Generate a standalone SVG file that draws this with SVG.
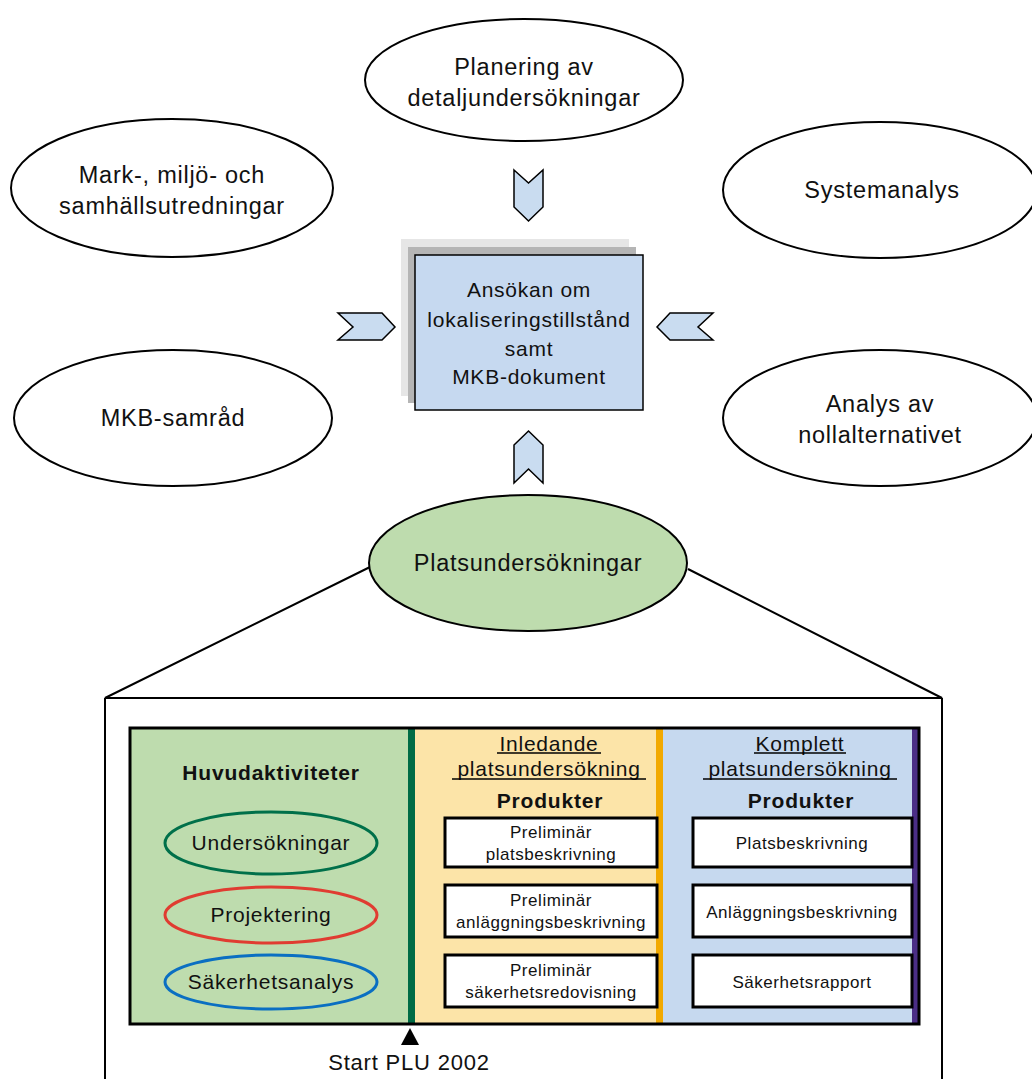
<svg xmlns="http://www.w3.org/2000/svg" width="1032" height="1079" viewBox="0 0 1032 1079">
  <style>
    text { font-family: "Liberation Sans", Arial, sans-serif; fill: #111; text-anchor: middle; }
    .big { font-size: 23.5px; letter-spacing: 0.75px; }
    .mid { font-size: 21px; letter-spacing: 0.75px; }
    .small { font-size: 17px; letter-spacing: 0.55px; }
    .bold { font-weight: bold; font-size: 21px; letter-spacing: 0.8px; }
    .oval { fill: #fff; stroke: #000; stroke-width: 2; }
    .chev { fill: #c9dcf0; stroke: #000; stroke-width: 1.5; stroke-linejoin: miter; }
    .prod { fill: #fff; stroke: #000; stroke-width: 3; }
    .line { stroke: #000; stroke-width: 2; fill: none; }
  </style>

  <!-- surrounding work packages -->
  <g id="planering">
    <ellipse class="oval" cx="524" cy="80" rx="159" ry="61"/>
    <text class="big" x="524" y="75">Planering av</text>
    <text class="big" x="524" y="106">detaljundersökningar</text>
  </g>
  <g id="mark">
    <ellipse class="oval" cx="172" cy="188" rx="161" ry="69"/>
    <text class="big" x="172" y="183">Mark-, miljö- och</text>
    <text class="big" x="172" y="214">samhällsutredningar</text>
  </g>
  <g id="systemanalys">
    <ellipse class="oval" cx="880" cy="190" rx="157" ry="68"/>
    <text class="big" x="882" y="198">Systemanalys</text>
  </g>
  <g id="mkb-samrad">
    <ellipse class="oval" cx="173" cy="418" rx="159" ry="68"/>
    <text class="big" x="173" y="426">MKB-samråd</text>
  </g>
  <g id="nollalternativ">
    <ellipse class="oval" cx="880" cy="418" rx="157" ry="68"/>
    <text class="big" x="880" y="412">Analys av</text>
    <text class="big" x="880" y="443">nollalternativet</text>
  </g>

  <!-- central application document with stacked shadows -->
  <g id="ansokan">
    <rect x="401" y="239" width="228" height="157" fill="#e6e6e6"/>
    <rect x="408" y="247" width="228" height="156" fill="#b5b5b5"/>
    <rect x="415" y="255" width="228" height="155" fill="#c6d9f0" stroke="#000" stroke-width="1.5"/>
    <text class="mid" x="529" y="297">Ansökan om</text>
    <text class="mid" x="529" y="327">lokaliseringstillstånd</text>
    <text class="mid" x="529" y="356">samt</text>
    <text class="mid" x="529" y="384">MKB-dokument</text>
  </g>

  <!-- chevrons pointing at the document -->
  <g id="connectors">
    <polygon class="chev" points="514,170 528.5,183 543,170 543,207 528.5,221 514,207"/>
    <polygon class="chev" points="514,445 528.5,431 543,445 543,483 528.5,469 514,483"/>
    <polygon class="chev" points="338,313 382,313 395,327 382,340 338,340 353,327"/>
    <polygon class="chev" points="713,313 670,313 657,327 670,340 713,340 698,327"/>
    <!-- zoom lines from site investigations to detail frame -->
    <polyline class="line" points="370,567 105,698 942,698 688,569"/>
    <line class="line" x1="105" y1="698" x2="105" y2="1079"/>
    <line class="line" x1="942" y1="698" x2="942" y2="1079"/>
  </g>

  <g id="platsundersokningar">
    <ellipse cx="528" cy="563" rx="159" ry="68" fill="#bedcae" stroke="#000" stroke-width="2"/>
    <text class="big" x="528" y="571">Platsundersökningar</text>
  </g>

  <!-- detail: phases of site investigation -->
  <g id="faser">
    <rect x="130" y="728" width="278" height="296" fill="#bedcae"/>
    <rect x="415" y="728" width="241" height="296" fill="#fce4a8"/>
    <rect x="663" y="728" width="249" height="296" fill="#c6d9ef"/>
    <rect x="408" y="728" width="7" height="296" fill="#006b45"/>
    <rect x="656" y="728" width="7" height="296" fill="#f2a900"/>
    <rect x="912" y="728" width="6" height="296" fill="#4b2e86"/>
    <rect x="130" y="728" width="789" height="296" fill="none" stroke="#000" stroke-width="3"/>
  </g>

  <g id="huvudaktiviteter">
    <text class="bold" x="271" y="780">Huvudaktiviteter</text>
    <ellipse cx="271" cy="843" rx="106" ry="31" fill="none" stroke="#00704a" stroke-width="3"/>
    <text class="mid" x="271" y="850">Undersökningar</text>
    <ellipse cx="271" cy="915" rx="106" ry="28" fill="none" stroke="#e03c31" stroke-width="3"/>
    <text class="mid" x="271" y="922">Projektering</text>
    <ellipse cx="271" cy="982" rx="106" ry="27" fill="none" stroke="#0a6fc2" stroke-width="3"/>
    <text class="mid" x="271" y="989">Säkerhetsanalys</text>
  </g>

  <g id="inledande">
    <text class="mid" x="549" y="751">Inledande</text>
    <line x1="497" y1="753" x2="601" y2="753" stroke="#000" stroke-width="1.5"/>
    <text class="mid" x="549" y="776">platsundersökning</text>
    <line x1="452" y1="779" x2="646" y2="779" stroke="#000" stroke-width="1.5"/>
    <text class="bold" x="550" y="808">Produkter</text>
    <rect class="prod" x="445" y="818" width="212" height="49"/>
    <text class="small" x="551" y="838">Preliminär</text>
    <text class="small" x="551" y="860">platsbeskrivning</text>
    <rect class="prod" x="445" y="885" width="212" height="52"/>
    <text class="small" x="551" y="906">Preliminär</text>
    <text class="small" x="551" y="928">anläggningsbeskrivning</text>
    <rect class="prod" x="445" y="955" width="212" height="52"/>
    <text class="small" x="551" y="976">Preliminär</text>
    <text class="small" x="551" y="998">säkerhetsredovisning</text>
  </g>

  <g id="komplett">
    <text class="mid" x="800" y="751">Komplett</text>
    <line x1="754" y1="753" x2="846" y2="753" stroke="#000" stroke-width="1.5"/>
    <text class="mid" x="800" y="776">platsundersökning</text>
    <line x1="703" y1="779" x2="897" y2="779" stroke="#000" stroke-width="1.5"/>
    <text class="bold" x="801" y="808">Produkter</text>
    <rect class="prod" x="693" y="818" width="219" height="49"/>
    <text class="small" x="802" y="849">Platsbeskrivning</text>
    <rect class="prod" x="693" y="885" width="219" height="52"/>
    <text class="small" x="802" y="918">Anläggningsbeskrivning</text>
    <rect class="prod" x="693" y="955" width="219" height="52"/>
    <text class="small" x="802" y="988">Säkerhetsrapport</text>
  </g>

  <g id="start">
    <polygon points="401,1045 410,1028 419,1045" fill="#000"/>
    <text x="409" y="1070" style="font-size:22px;letter-spacing:0.8px">Start PLU 2002</text>
  </g>
</svg>
